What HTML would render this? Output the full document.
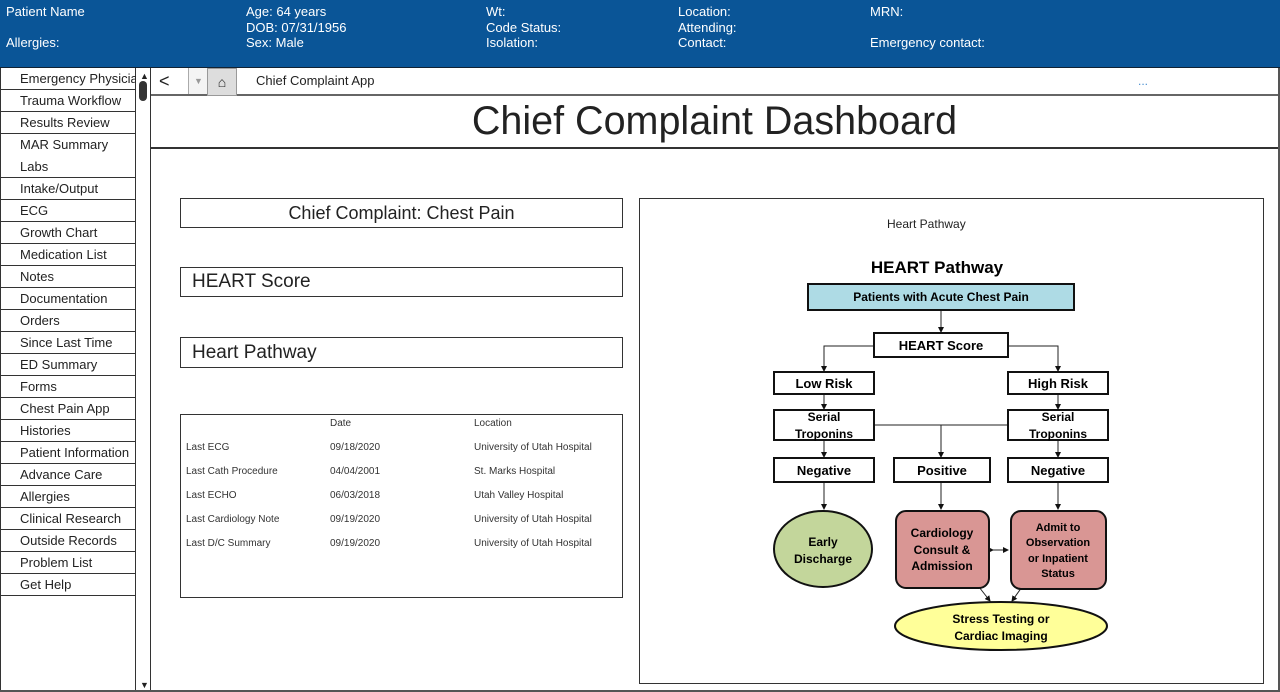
<!DOCTYPE html>
<html><head><style>
*{margin:0;padding:0;box-sizing:border-box}
body{width:1280px;height:692px;position:relative;overflow:hidden;background:#fff;font-family:"Liberation Sans",Arial,sans-serif;color:#222}
.a{position:absolute}
.h{color:#fff;font-size:13px;position:absolute}
.si{position:absolute;left:0;width:136px;border-bottom:1px solid #333;font-size:13px;padding-left:20px;line-height:21px;white-space:nowrap;overflow:hidden}
.box{position:absolute;border:1px solid #333;background:#fff}
.t{position:absolute;font-size:10px;color:#333}
</style></head><body>
<div class="a" style="left:0;top:0;width:1280px;height:68px;background:#0a5597;border-bottom:1px solid #123"></div>
<div class="h" style="left:6px;top:4px">Patient Name</div>
<div class="h" style="left:6px;top:35px">Allergies:</div>
<div class="h" style="left:246px;top:4px;line-height:15.5px">Age: 64 years<br>DOB: 07/31/1956<br>Sex: Male</div>
<div class="h" style="left:486px;top:4px;line-height:15.5px">Wt:<br>Code Status:<br>Isolation:</div>
<div class="h" style="left:678px;top:4px;line-height:15.5px">Location:<br>Attending:<br>Contact:</div>
<div class="h" style="left:870px;top:4px">MRN:</div>
<div class="h" style="left:870px;top:35px">Emergency contact:</div>

<div class="a" style="left:0;top:68px;width:1px;height:624px;background:#333"></div>
<div class="a" style="left:135px;top:68px;width:1px;height:624px;background:#333"></div>
<div class="a" style="left:150px;top:68px;width:1px;height:624px;background:#333"></div>
<div class="a" style="left:1278px;top:68px;width:2px;height:624px;background:#555"></div>
<div class="a" style="left:0;top:690px;width:1280px;height:2px;background:#555"></div>
<div class="a" style="left:140px;top:71px;font-size:9px">▲</div>
<div class="a" style="left:139px;top:81px;width:8px;height:20px;border-radius:4px;background:#333"></div>
<div class="a" style="left:140px;top:680px;font-size:9px">▼</div>

<div class="si" style="top:68px">Emergency Physician</div>
<div class="si" style="top:90px">Trauma Workflow</div>
<div class="si" style="top:112px">Results Review</div>
<div class="si" style="top:134px;height:44px;line-height:21.5px">MAR Summary<br>Labs</div>
<div class="si" style="top:178px">Intake/Output</div>
<div class="si" style="top:200px">ECG</div>
<div class="si" style="top:222px">Growth Chart</div>
<div class="si" style="top:244px">Medication List</div>
<div class="si" style="top:266px">Notes</div>
<div class="si" style="top:288px">Documentation</div>
<div class="si" style="top:310px">Orders</div>
<div class="si" style="top:332px">Since Last Time</div>
<div class="si" style="top:354px">ED Summary</div>
<div class="si" style="top:376px">Forms</div>
<div class="si" style="top:398px">Chest Pain App</div>
<div class="si" style="top:420px">Histories</div>
<div class="si" style="top:442px">Patient Information</div>
<div class="si" style="top:464px">Advance Care</div>
<div class="si" style="top:486px">Allergies</div>
<div class="si" style="top:508px">Clinical Research</div>
<div class="si" style="top:530px">Outside Records</div>
<div class="si" style="top:552px">Problem List</div>
<div class="si" style="top:574px">Get Help</div>

<div class="a" style="left:151px;top:94px;width:1127px;height:2px;background:#666"></div>
<div class="a" style="left:159px;top:70px;font-size:18px;line-height:22px">&lt;</div>
<div class="a" style="left:188px;top:68px;width:20px;height:26px;border-left:1px solid #aaa;background:#f4f4f4;color:#999;font-size:9px;text-align:center;line-height:26px">▼</div>
<div class="a" style="left:207px;top:68px;width:30px;height:28px;background:#ddd;border:1px solid #999;text-align:center;font-size:14px;line-height:26px">⌂</div>
<div class="a" style="left:256px;top:73px;font-size:13px">Chief Complaint App</div>
<div class="a" style="left:1138px;top:74px;font-size:12px;color:#4a8fd0">...</div>

<div class="a" style="left:151px;top:99px;width:1127px;text-align:center;font-size:39.5px;line-height:44px;color:#222">Chief Complaint Dashboard</div>
<div class="a" style="left:151px;top:147px;width:1127px;height:2px;background:#333"></div>

<div class="box" style="left:180px;top:198px;width:443px;height:30px;text-align:center;font-size:18px;line-height:28px">Chief Complaint: Chest Pain</div>
<div class="box" style="left:180px;top:267px;width:443px;height:30px;font-size:19px;line-height:28px;padding-left:11px">HEART Score</div>
<div class="box" style="left:180px;top:337px;width:443px;height:31px;font-size:19px;line-height:29px;padding-left:11px">Heart Pathway</div>

<div class="box" style="left:180px;top:414px;width:443px;height:184px"></div>
<div class="t" style="left:330px;top:418px">Date</div><div class="t" style="left:474px;top:418px">Location</div>
<div class="t" style="left:186px;top:442px">Last ECG</div><div class="t" style="left:330px;top:442px">09/18/2020</div><div class="t" style="left:474px;top:442px">University of Utah Hospital</div>
<div class="t" style="left:186px;top:466px">Last Cath Procedure</div><div class="t" style="left:330px;top:466px">04/04/2001</div><div class="t" style="left:474px;top:466px">St. Marks Hospital</div>
<div class="t" style="left:186px;top:490px">Last ECHO</div><div class="t" style="left:330px;top:490px">06/03/2018</div><div class="t" style="left:474px;top:490px">Utah Valley Hospital</div>
<div class="t" style="left:186px;top:514px">Last Cardiology Note</div><div class="t" style="left:330px;top:514px">09/19/2020</div><div class="t" style="left:474px;top:514px">University of Utah Hospital</div>
<div class="t" style="left:186px;top:538px">Last D/C Summary</div><div class="t" style="left:330px;top:538px">09/19/2020</div><div class="t" style="left:474px;top:538px">University of Utah Hospital</div>

<div class="box" style="left:639px;top:198px;width:625px;height:486px"></div>
<div class="a" style="left:887px;top:217px;font-size:12px">Heart Pathway</div>

<svg class="a" style="left:0;top:0" width="1280" height="692" font-family="Liberation Sans,sans-serif" font-weight="bold" text-anchor="middle">
<defs><marker id="m" markerWidth="6" markerHeight="6" refX="5" refY="3" orient="auto"><path d="M0,0L6,3L0,6z" fill="#111"/></marker></defs>
<g stroke="#222" stroke-width="1" fill="none" marker-end="url(#m)">
<path d="M941 310V332"/><path d="M874 346H824V371"/><path d="M1008 346H1058V371"/>
<path d="M824 394V409"/><path d="M1058 394V409"/>
<path d="M824 440V457"/><path d="M1058 440V457"/>
<path d="M874 425H1008" marker-end="none"/><path d="M941 425V457"/>
<path d="M824 483V509"/><path d="M941 483V509"/><path d="M1058 483V509"/>
<path d="M1022 587L1012 601"/>
</g>
<path d="M993 550H1008" stroke="#222" marker-end="url(#m)" marker-start="url(#m)"/>
<path d="M979 587L990 601" stroke="#222" marker-end="url(#m)" marker-start="url(#m)"/>
<text x="937" y="273" font-size="17">HEART Pathway</text>
<rect x="808" y="284" width="266" height="26" fill="#aedbe5" stroke="#111" stroke-width="2"/>
<text x="941" y="301" font-size="12">Patients with Acute Chest Pain</text>
<rect x="874" y="333" width="134" height="24" fill="#fff" stroke="#111" stroke-width="2"/>
<text x="941" y="350" font-size="13">HEART Score</text>
<g fill="#fff" stroke="#111" stroke-width="2">
<rect x="774" y="372" width="100" height="22"/><rect x="1008" y="372" width="100" height="22"/>
<rect x="774" y="410" width="100" height="30"/><rect x="1008" y="410" width="100" height="30"/>
<rect x="774" y="458" width="100" height="24"/><rect x="894" y="458" width="96" height="24"/><rect x="1008" y="458" width="100" height="24"/>
</g>
<g font-size="13"><text x="824" y="388">Low Risk</text><text x="1058" y="388">High Risk</text>
<text x="824" y="475">Negative</text><text x="942" y="475">Positive</text><text x="1058" y="475">Negative</text></g>
<g font-size="12"><text x="824" y="421">Serial</text><text x="824" y="438">Troponins</text>
<text x="1058" y="421">Serial</text><text x="1058" y="438">Troponins</text></g>
<ellipse cx="823" cy="549" rx="49" ry="38" fill="#c3d69b" stroke="#111" stroke-width="2"/>
<text x="823" y="546" font-size="12">Early</text><text x="823" y="563" font-size="12">Discharge</text>
<rect x="896" y="511" width="93" height="77" rx="10" fill="#d99694" stroke="#111" stroke-width="2"/>
<text x="942" y="537" font-size="12">Cardiology</text><text x="942" y="554" font-size="12">Consult &amp;</text><text x="942" y="570" font-size="12">Admission</text>
<rect x="1011" y="511" width="95" height="78" rx="10" fill="#d99694" stroke="#111" stroke-width="2"/>
<g font-size="11"><text x="1058" y="531">Admit to</text><text x="1058" y="546">Observation</text><text x="1058" y="562">or Inpatient</text><text x="1058" y="577">Status</text></g>
<ellipse cx="1001" cy="626" rx="106" ry="24" fill="#ffff99" stroke="#111" stroke-width="2"/>
<text x="1001" y="623" font-size="12">Stress Testing or</text><text x="1001" y="640" font-size="12">Cardiac Imaging</text>
</svg>
</body></html>
